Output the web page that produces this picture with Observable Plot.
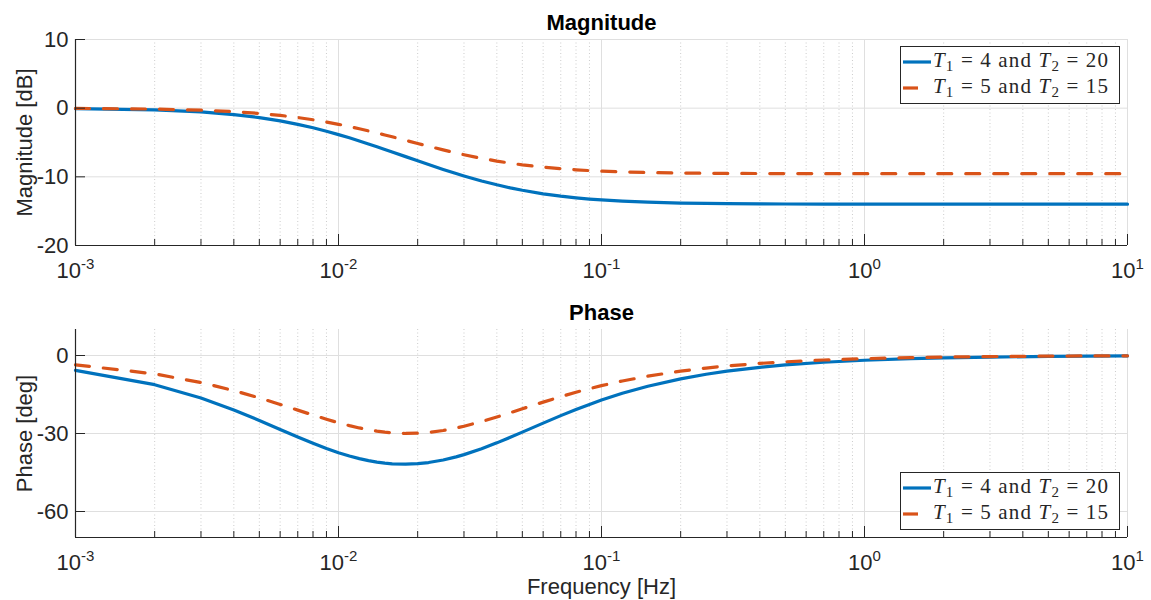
<!DOCTYPE html>
<html><head><meta charset="utf-8">
<script src="https://cdn.jsdelivr.net/npm/d3@7"></script>
<script src="https://cdn.jsdelivr.net/npm/@observablehq/plot@0.6"></script>
<style>
html,body{margin:0;padding:0;background:#fff;}
#chart{width:1151px;height:600px;position:relative;overflow:hidden;}
#chart svg{display:block;}
</style></head><body><div id="chart"></div>
<script>
// Frequencies [Hz]
const freq = [0.001,0.002,0.003,0.004,0.005,0.006,0.007,0.008,0.009,0.01,0.011,0.012,0.013,0.014,0.015,0.016,0.018,0.02,0.022,0.025,0.028,0.03,0.035,0.04,0.045,0.05,0.06,0.07,0.08,0.09,0.1,0.12,0.15,0.2,0.25,0.3,0.4,0.5,0.7,1,1.5,2,3,5,7,10];
// Magnitude [dB]
const magA = [-0.065,-0.255,-0.553,-0.935,-1.377,-1.857,-2.357,-2.861,-3.361,-3.849,-4.320,-4.773,-5.205,-5.616,-6.006,-6.376,-7.056,-7.665,-8.208,-8.917,-9.518,-9.867,-10.596,-11.161,-11.605,-11.958,-12.472,-12.819,-13.062,-13.238,-13.368,-13.545,-13.696,-13.818,-13.875,-13.907,-13.939,-13.953,-13.966,-13.973,-13.976,-13.977,-13.978,-13.979,-13.979,-13.979];
const magB = [-0.034,-0.135,-0.296,-0.509,-0.765,-1.054,-1.364,-1.689,-2.020,-2.352,-2.680,-3.001,-3.312,-3.611,-3.898,-4.173,-4.681,-5.138,-5.546,-6.077,-6.522,-6.779,-7.306,-7.707,-8.016,-8.256,-8.599,-8.825,-8.980,-9.090,-9.172,-9.281,-9.373,-9.446,-9.480,-9.499,-9.518,-9.527,-9.534,-9.539,-9.540,-9.541,-9.541,-9.542,-9.542,-9.542];
// Phase [deg]
const phaseA = [-5.72,-11.23,-16.34,-20.95,-24.99,-28.44,-31.36,-33.78,-35.77,-37.38,-38.66,-39.67,-40.43,-41.00,-41.39,-41.65,-41.81,-41.62,-41.17,-40.20,-39.00,-38.13,-35.85,-33.60,-31.46,-29.47,-26.00,-23.13,-20.76,-18.80,-17.15,-14.55,-11.82,-8.97,-7.22,-6.04,-4.54,-3.64,-2.60,-1.82,-1.22,-0.91,-0.61,-0.36,-0.26,-0.18];
const phaseB = [-3.58,-7.08,-10.40,-13.49,-16.31,-18.81,-21.01,-22.91,-24.52,-25.86,-26.97,-27.86,-28.56,-29.10,-29.49,-29.76,-29.99,-29.89,-29.60,-28.86,-27.91,-27.20,-25.42,-23.66,-22.01,-20.50,-17.93,-15.83,-14.14,-12.75,-11.60,-9.80,-7.94,-6.01,-4.83,-4.03,-3.03,-2.43,-1.74,-1.22,-0.81,-0.61,-0.41,-0.24,-0.17,-0.12];
// Legend parameters
const T1 = [4, 5];
const T2 = [20, 15];
// Ticks
const decadeTicks = [1e-3, 1e-2, 1e-1, 1e0, 1e1];
const minorTicks = [];
for (let i = 0; i < decadeTicks.length - 1; i++) for (let k = 2; k <= 9; k++) minorTicks.push(+(k * decadeTicks[i]).toPrecision(3));
const magTicks = [-20, -10, 0, 10];
const phaseTicks = [-60, -30, 0];

const BLUE = "#0072BD", ORANGE = "#D95319", INK = "#262626";
const W = 1151, ML = 75, MR = 24, MT = 39;

function panel({height, marginBottom, yDomain, yTicks, title, yLabel, sA, sB, xLabel}) {
  const innerH = height - MT - marginBottom, innerW = W - ML - MR;
  const A = freq.map((f, i) => ({f, v: sA[i]}));
  const B = freq.map((f, i) => ({f, v: sB[i]}));
  const marks = [
    Plot.gridX(minorTicks, {stroke: "#cccccc", strokeOpacity: 1, strokeDasharray: "1,2.5"}),
    Plot.gridX(decadeTicks, {stroke: "#dfdfdf", strokeOpacity: 1}),
    Plot.gridY(yTicks, {stroke: "#dfdfdf", strokeOpacity: 1}),
    Plot.line(A, {x: "f", y: "v", stroke: BLUE, strokeWidth: 3.2}),
    Plot.line(B, {x: "f", y: "v", stroke: ORANGE, strokeWidth: 3.2, strokeDasharray: "14,14"}),
    Plot.ruleX([decadeTicks[0]], {stroke: INK, strokeWidth: 1.2}),
    Plot.ruleY([yDomain[0]], {stroke: INK, strokeWidth: 1.2}),
    Plot.tickX(decadeTicks, {x: d => d, insetTop: innerH - 11, stroke: INK}),
    Plot.tickX(minorTicks, {x: d => d, insetTop: innerH - 6, stroke: INK}),
    Plot.tickY(yTicks, {y: d => d, insetRight: innerW - 10, stroke: INK}),
    Plot.axisX(decadeTicks, {tickSize: 0, tickPadding: 17, tickFormat: d => "10^" + Math.round(Math.log10(d)), label: null}),
    Plot.axisY(yTicks, {tickSize: 0, tickPadding: 7, tickFormat: d => String(d), label: null}),
    Plot.text([title], {frameAnchor: "top", lineAnchor: "middle", dy: -17, fontWeight: "bold", fontSize: 22, fill: "#000"}),
    Plot.text([yLabel], {frameAnchor: "left", textAnchor: "middle", lineAnchor: "middle", rotate: -90, dx: -51, fontSize: 22, fill: INK})
  ];
  if (xLabel) marks.push(Plot.text([xLabel], {frameAnchor: "bottom", lineAnchor: "middle", dy: 49, fontSize: 22, fill: INK}));
  const svg = Plot.plot({
    width: W, height, marginLeft: ML, marginRight: MR, marginTop: MT, marginBottom,
    style: {fontFamily: "'Liberation Sans', Arial, Helvetica, sans-serif", fontSize: "22px", color: INK, background: "#fff", overflow: "visible"},
    x: {type: "log", domain: [decadeTicks[0], decadeTicks[decadeTicks.length - 1]], label: null},
    y: {domain: yDomain, label: null},
    marks
  });
  // superscript exponents on the decade labels
  d3.select(svg).selectAll('g[aria-label="x-axis tick label"] text').each(function () {
    const t = this.textContent; const [b, e] = t.split("^");
    const s = d3.select(this); s.text(null);
    s.append("tspan").text(b);
    s.append("tspan").attr("dy", -9).attr("font-size", "15px").text(e.replace("−", "-"));
  });
  return svg;
}

function addLegend(svg, y0) {
  const g = d3.select(svg).append("g").attr("text-anchor", "start");
  g.append("rect").attr("x", 900.5).attr("y", y0 + 0.5).attr("width", 219).attr("height", 57)
    .attr("fill", "#fff").attr("stroke", INK).attr("stroke-width", 1);
  const colors = [BLUE, ORANGE];
  const dashes = [null, "15,14"];
  for (let i = 0; i < T1.length; i++) {
    const base = y0 + 21 + i * 26;
    g.append("line").attr("x1", 903).attr("x2", 931).attr("y1", base - 5).attr("y2", base - 5)
      .attr("stroke", colors[i]).attr("stroke-width", 3.2).attr("stroke-dasharray", dashes[i]);
    const t = g.append("text").attr("x", 933).attr("y", base).attr("text-anchor", "start")
      .attr("font-family", "'Liberation Serif', 'DejaVu Serif', serif").attr("font-size", 21)
      .attr("fill", INK).attr("textLength", 175).attr("lengthAdjust", "spacing")
      .style("white-space", "pre");
    t.append("tspan").attr("font-style", "italic").text("T");
    t.append("tspan").attr("font-size", 15).attr("dy", 4).text("1");
    t.append("tspan").attr("dy", -4).text(" = " + T1[i] + " and ");
    t.append("tspan").attr("font-style", "italic").text("T");
    t.append("tspan").attr("font-size", 15).attr("dy", 4).text("2");
    t.append("tspan").attr("dy", -4).text(" = " + T2[i]);
  }
}

const magSvg = panel({height: 290, marginBottom: 45, yDomain: [-20, 10], yTicks: magTicks, title: "Magnitude", yLabel: "Magnitude [dB]", sA: magA, sB: magB});
addLegend(magSvg, 46);
const phaseSvg = panel({height: 310, marginBottom: 63, yDomain: [-70, 10], yTicks: phaseTicks, title: "Phase", yLabel: "Phase [deg]", sA: phaseA, sB: phaseB, xLabel: "Frequency [Hz]"});
addLegend(phaseSvg, 182);
document.getElementById("chart").append(magSvg, phaseSvg);
</script></body></html>
